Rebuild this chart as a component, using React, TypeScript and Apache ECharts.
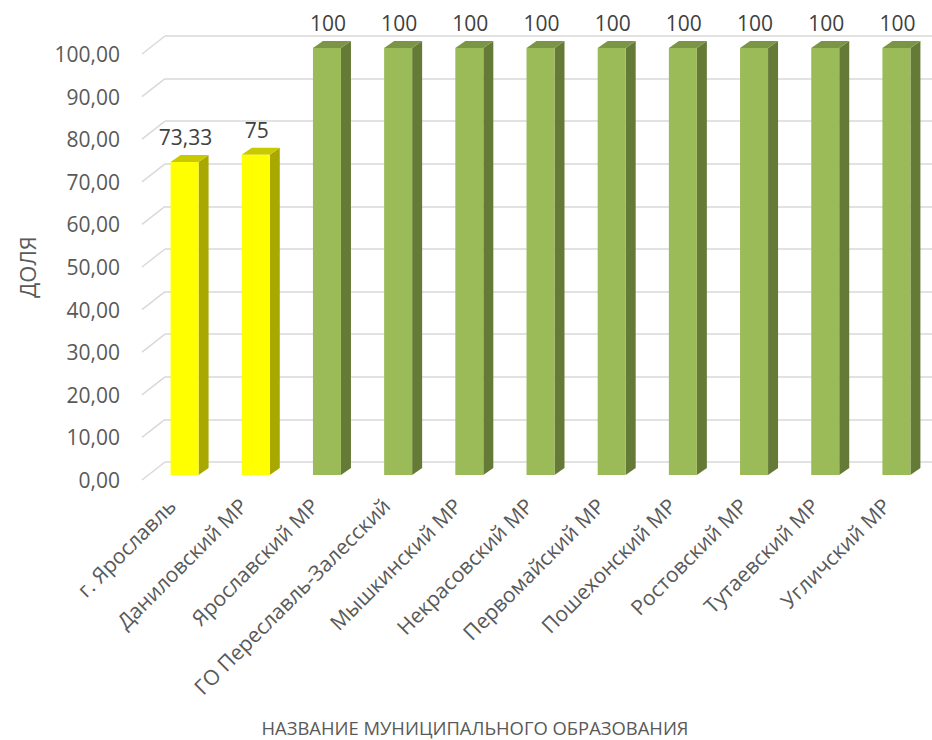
import React, { useEffect, useRef } from "react";
import * as echarts from "echarts";

const categories = [
  "г. Ярославль",
  "Даниловский МР",
  "Ярославский МР",
  "ГО Переславль-Залесский",
  "Мышкинский МР",
  "Некрасовский МР",
  "Первомайский МР",
  "Пошехонский МР",
  "Ростовский МР",
  "Тутаевский МР",
  "Угличский МР",
];
const values = [73.33, 75, 100, 100, 100, 100, 100, 100, 100, 100, 100];
const barGroups = ["yellow", "yellow", "green", "green", "green", "green", "green", "green", "green", "green", "green"];
const yTicks = [0, 10, 20, 30, 40, 50, 60, 70, 80, 90, 100];
const yAxisTitle = "ДОЛЯ";
const xAxisTitle = "НАЗВАНИЕ МУНИЦИПАЛЬНОГО ОБРАЗОВАНИЯ";

const FONT = "'Open Sans', 'Noto Sans', sans-serif";
const palette: Record<string, { front: string; side: string; top: string }> = {
  yellow: { front: "#FFFF00", side: "#A8A800", top: "#C9C900" },
  green: { front: "#9BBB59", side: "#667A37", top: "#7B9547" },
};

export default function App() {
  const ref = useRef<HTMLDivElement>(null);
  useEffect(() => {
    if (!ref.current) return;
    const chart = echarts.init(ref.current, undefined, { renderer: "svg" });
    const option: any = {
      animation: false,
      backgroundColor: "#ffffff",
      grid: [
        { left: 165, right: 0, top: 36, height: 426 },
        { left: 142, width: 10, top: 54, height: 426 },
        { left: 149, width: 786, top: 48, height: 427 },
        { left: 136, width: 786, top: 48, height: 427 },
      ],
      xAxis: [
        { gridIndex: 0, type: "category", data: categories, show: false },
        { gridIndex: 1, type: "value", show: false },
        { gridIndex: 2, type: "category", data: categories, show: false },
        {
          gridIndex: 3,
          type: "category",
          data: categories,
          axisLine: { show: false },
          axisTick: { show: false },
          axisLabel: {
            rotate: 45,
            margin: 27,
            interval: 0,
            fontSize: 21,
            color: "#595959",
            fontFamily: FONT,
          },
        },
      ],
      yAxis: [
        {
          gridIndex: 0,
          type: "value",
          min: 0,
          max: 100,
          interval: 10,
          axisLabel: { show: false },
          axisLine: { show: false },
          axisTick: { show: false },
          splitLine: { lineStyle: { color: "#d9d9d9", width: 1.5 } },
        },
        {
          gridIndex: 1,
          type: "value",
          min: 0,
          max: 100,
          interval: 10,
          axisLine: { show: false },
          axisTick: { show: false },
          splitLine: { show: false },
          axisLabel: {
            margin: 22,
            fontSize: 21,
            color: "#595959",
            fontFamily: FONT,
            formatter: (v: number) => v.toFixed(2).replace(".", ","),
          },
          name: yAxisTitle,
          nameLocation: "middle",
          nameGap: 104,
          nameTextStyle: { fontSize: 22, color: "#595959", fontFamily: FONT },
        },
        { gridIndex: 2, type: "value", min: 0, max: 100, show: false },
        { gridIndex: 3, type: "value", min: 0, max: 100, show: false },
      ],
      graphic: [
        {
          type: "text",
          x: 475,
          y: 727,
          style: {
            text: xAxisTitle,
            fontSize: 18.4,
            fill: "#595959",
            fontFamily: FONT,
            align: "center",
            verticalAlign: "middle",
          },
        },
      ],
      series: [
        {
          type: "custom",
          xAxisIndex: 0,
          yAxisIndex: 0,
          silent: true,
          data: yTicks.map((t) => [0, t]),
          renderItem: (params: any, api: any) => {
            const p = api.coord([0, api.value(1)]);
            const x0 = params.coordSys.x;
            return {
              type: "line",
              shape: { x1: x0 - 23, y1: p[1] + 18, x2: x0, y2: p[1] },
              style: { stroke: "#d9d9d9", lineWidth: 1.5 },
            };
          },
        },
        {
          type: "custom",
          xAxisIndex: 2,
          yAxisIndex: 2,
          silent: true,
          data: values.map((v, i) => [i, v]),
          renderItem: (params: any, api: any) => {
            const i = api.value(0);
            const v = api.value(1);
            const base = api.coord([i, 0]);
            const top = api.coord([i, v]);
            const cx = base[0];
            const fl = cx - 14;
            const fr = cx + 14;
            const dx = 10;
            const dy = -7;
            const c = palette[barGroups[params.dataIndex]];
            const label = String(v).replace(".", ",");
            return {
              type: "group",
              children: [
                {
                  type: "polygon",
                  shape: { points: [[fr, top[1]], [fr + dx, top[1] + dy], [fr + dx, base[1] + dy], [fr, base[1]]] },
                  style: { fill: c.side },
                },
                {
                  type: "polygon",
                  shape: { points: [[fl, top[1]], [fl + dx, top[1] + dy], [fr + dx, top[1] + dy], [fr, top[1]]] },
                  style: { fill: c.top },
                },
                {
                  type: "rect",
                  shape: { x: fl, y: top[1], width: fr - fl, height: base[1] - top[1] },
                  style: { fill: c.front },
                },
                {
                  type: "text",
                  x: cx + 1,
                  y: top[1] - 25,
                  style: {
                    text: label,
                    fontSize: 21,
                    fill: "#404040",
                    fontFamily: FONT,
                    align: "center",
                    verticalAlign: "middle",
                  },
                },
              ],
            };
          },
        },
      ],
    };
    chart.setOption(option);
    return () => chart.dispose();
  }, []);
  return <div ref={ref} style={{ position: "absolute", left: 0, top: 0, width: 932, height: 740 }} />;
}
